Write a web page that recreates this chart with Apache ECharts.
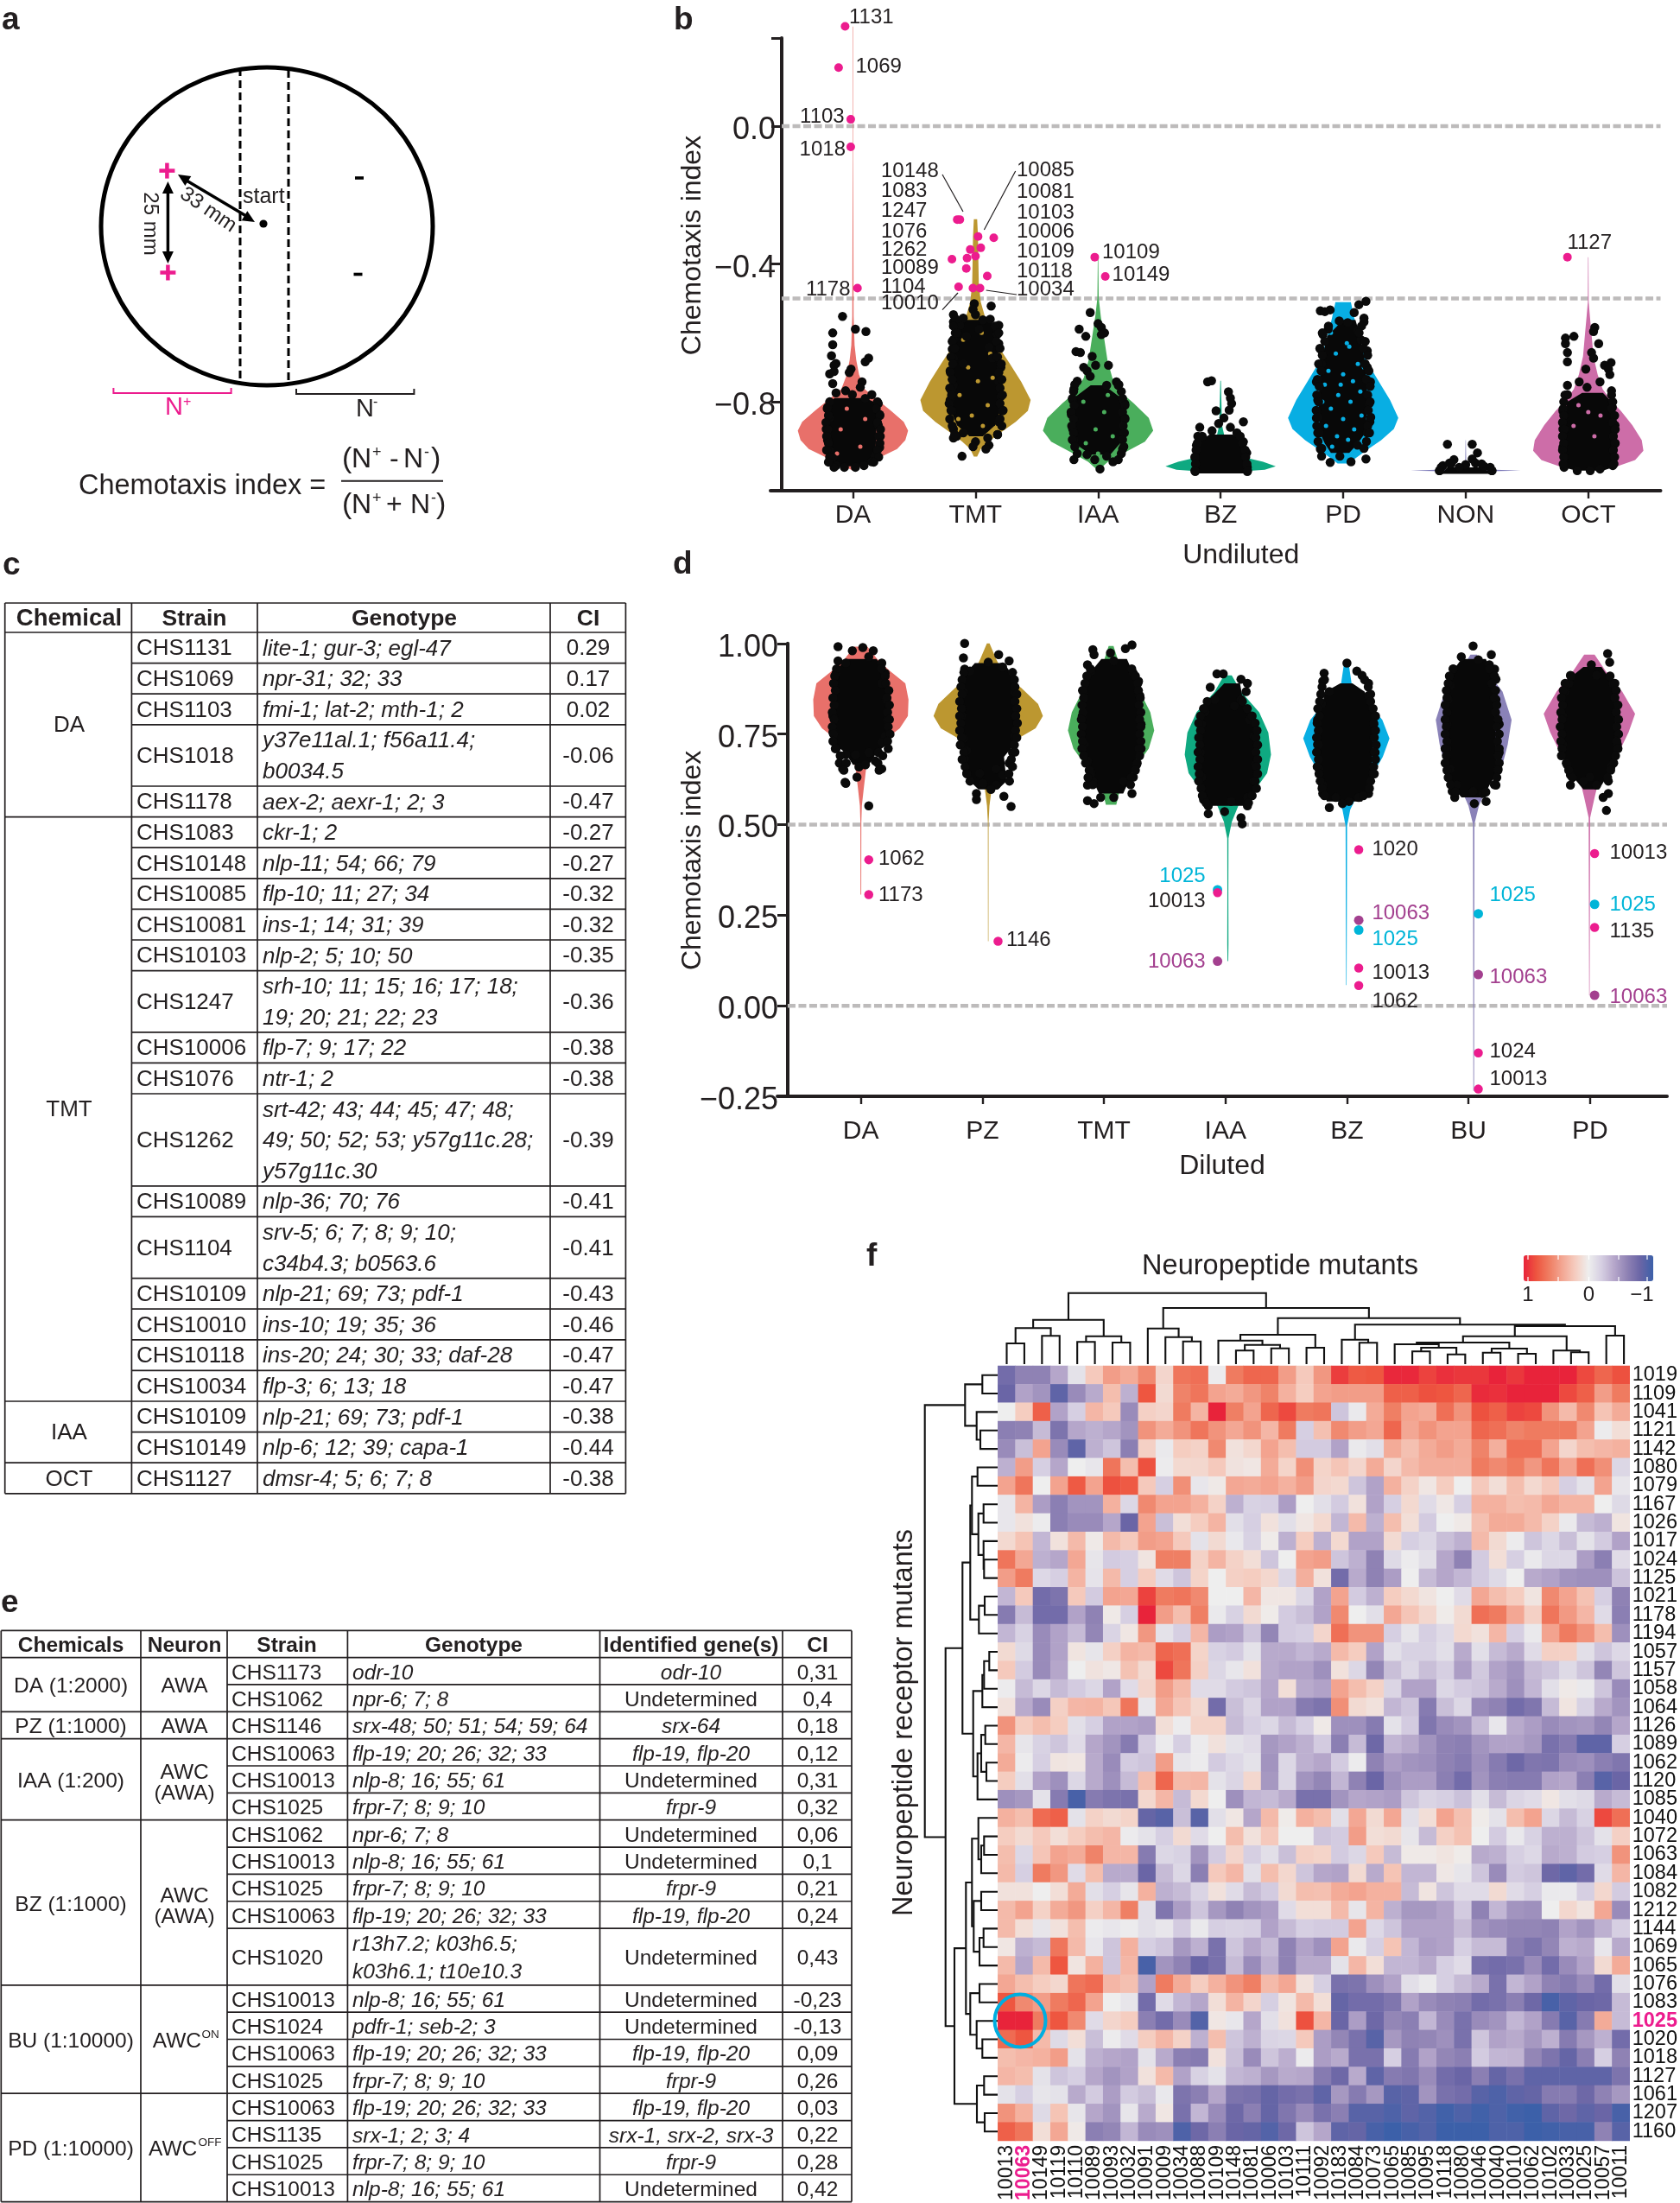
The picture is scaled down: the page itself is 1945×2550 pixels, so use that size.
<!DOCTYPE html>
<html><head><meta charset="utf-8"><style>html,body{margin:0;padding:0;background:#fff}#c{width:1945px;height:2550px}</style>
<script src="https://cdn.jsdelivr.net/npm/echarts@6/dist/echarts.min.js"></script></head><body><div id="c"></div>
<script>
// ---------- PANEL b data ----------
const catsB=['DA','TMT','IAA','BZ','PD','NON','OCT'];
const colorsB=['#e8706a','#bc9730','#4aae5c','#0fa981','#08aee3','#7b78b8','#cd6da8'];
const vioB_DA=[[.289,.004],[-.098,.004],[-.552,.012],[-.636,.03],[-.679,.06],[-.721,.11],[-.763,.21],[-.795,.45],[-.826,.69],[-.858,.92],[-.884,1],[-.911,.95],[-.937,.8],[-.963,.47],[-.979,.26],[-1,0]];
const vioB_TMT=[[-.27,.03],[-.32,.045],[-.373,.05],[-.457,.06],[-.51,.095],[-.552,.17],[-.584,.24],[-.626,.36],[-.689,.62],[-.742,.83],[-.795,1],[-.826,.95],[-.858,.73],[-.89,.45],[-.916,.24],[-.937,.095],[-.959,.03]];
const vioB_IAA=[[-.38,.004],[-.499,.012],[-.552,.05],[-.615,.11],[-.679,.17],[-.731,.26],[-.774,.43],[-.805,.65],[-.847,.92],[-.884,1],[-.916,.85],[-.948,.47],[-.974,.18],[-1,0]];
const vioB_BZ=[[-.739,.006],[-.868,.025],[-.921,.1],[-.948,.25],[-.963,.47],[-.974,.77],[-.987,1],[-.997,.8],[-1.003,.3]];
const vioB_PD=[[-.511,.14],[-.562,.21],[-.636,.33],[-.689,.45],[-.742,.65],[-.795,.85],[-.847,1],[-.879,.92],[-.911,.69],[-.942,.41],[-.969,.18],[-.979,.1]];
const vioB_NON=[[-.911,.003],[-.99,.01],[-.996,.3],[-1,1],[-1.003,0]];
const vioB_OCT=[[-.38,.004],[-.51,.008],[-.552,.03],[-.605,.06],[-.668,.095],[-.721,.17],[-.763,.26],[-.795,.4],[-.826,.59],[-.868,.8],[-.911,.97],[-.942,1],[-.969,.85],[-.99,.47],[-.997,.12]];
const coreB_DA=[[-.789,-.15,.1],[-.805,-.2,.2],[-.974,-.2,.18],[-.987,-.13,.1]];
const coreB_TMT=[[-.562,-.12,.12],[-.605,-.16,.17],[-.689,-.19,.19],[-.826,-.2,.2],[-.868,-.15,.16],[-.9,-.05,.06]];
const coreB_IAA=[[-.752,-.06,.05],[-.784,-.18,.17],[-.826,-.2,.2],[-.921,-.19,.18],[-.953,-.06,.1]];
const coreB_BZ=[[-.895,-.09,.1],[-.916,-.18,.17],[-.953,-.2,.2],[-1.008,-.2,.2]];
const coreB_PD=[[-.562,0,.1],[-.61,-.13,.14],[-.689,-.18,.18],[-.795,-.2,.2],[-.89,-.19,.18],[-.921,-.15,.12],[-.948,-.1,.05]];
const coreB_NON=[[-.99,-.15,.14],[-1.009,-.2,.21]];
const coreB_OCT=[[-.774,-.05,.12],[-.8,-.17,.19],[-.847,-.2,.2],[-.99,-.2,.2],[-1,-.1,.12]];
const dotsB_DA=[[-.085,-.552],[-.165,-.6],[.02,-.589],[.106,-.596],[-.165,-.634],[-.175,-.666],[-.138,-.689],[-.154,-.694],[.128,-.673],[.1,-.684],[-.016,-.705],[-.19,-.719],[-.154,-.712],[-.03,-.715],[.074,-.742],[.06,-.758],[-.165,-.747],[-.138,-.774],[-.06,-.768],[-.005,-.779],[.154,-.779],[.1,-.79],[-.207,-.816],[-.19,-.847],[-.218,-.879],[-.207,-.911],[-.19,-.942],[-.165,-.963],[.207,-.805],[.218,-.837],[.207,-.868],[.223,-.9],[.218,-.932],[.18,-.958],[.154,-.974],[-.138,-.985],[-.07,-.99],[.02,-.99],[.09,-.985],[-.154,-.99]];
const dotsB_TMT=[[-.01,-.515],[.128,-.522],[-.02,-.532],[-.18,-.547],[-.1,-.557],[0,-.547],[.06,-.562],[-.18,-.568],[-.128,-.578],[.165,-.584],[.19,-.578],[-.165,-.6],[.03,-.589],[.176,-.605],[-.18,-.62],[-.074,-.61],[.19,-.631],[.11,-.642],[-.19,-.647],[.138,-.673],[-.18,-.673],[-.1,-.689],[.207,-.7],[-.207,-.71],[.19,-.742],[-.18,-.752],[.207,-.784],[-.197,-.768],[-.207,-.795],[.218,-.826],[-.19,-.826],[.19,-.858],[-.18,-.879],[-.1,-.89],[.18,-.895],[-.154,-.9],[-.18,-.905],[.1,-.905],[.11,-.926],[0,-.916],[-.02,-.93],[-.11,-.958],[.085,-.937]];
const dotsB_IAA=[[-.064,-.541],[0,-.573],[.027,-.584],[.053,-.6],[-.154,-.589],[-.1,-.61],[.027,-.605],[-.18,-.654],[-.144,-.657],[-.048,-.668],[-.02,-.694],[.085,-.694],[-.117,-.7],[-.09,-.71],[-.17,-.74],[-.064,-.726],[.15,-.742],[.165,-.752],[-.197,-.763],[.07,-.752],[-.207,-.795],[.218,-.805],[-.218,-.837],[.218,-.847],[-.207,-.879],[.207,-.89],[-.197,-.911],[.2,-.937],[-.197,-.968],[-.09,-.953],[-.027,-.968],[.016,-.995],[.122,-.974],[.165,-.968],[.07,-.958]];
const dotsB_BZ=[[-.106,-.742],[-.074,-.739],[.064,-.771],[.08,-.789],[.09,-.805],[-.037,-.826],[.07,-.824],[-.17,-.874],[.027,-.847],[-.016,-.863],[.08,-.874],[.186,-.858],[-.07,-.884],[.133,-.89],[-.186,-.9],[.186,-.916],[-.197,-.926],[.213,-.948],[-.207,-.963],[.218,-.99],[-.207,-1.002],[.218,-1.002]];
const dotsB_PD=[[-.186,-.536],[-.106,-.533],[-.149,-.538],[.186,-.508],[.128,-.518],[.09,-.541],[.17,-.557],[-.032,-.565],[.17,-.568],[.037,-.57],[-.122,-.589],[-.165,-.605],[.117,-.594],[.144,-.62],[.197,-.652],[-.186,-.647],[-.176,-.689],[.197,-.7],[-.218,-.742],[.223,-.742],[-.207,-.795],[.213,-.805],[-.218,-.847],[.218,-.858],[-.207,-.89],[.197,-.89],[-.186,-.937],[-.176,-.958],[-.106,-.976],[.064,-.974],[.186,-.966],[-.027,-.958],[.117,-.926]];
const dotsB_NON=[[-.149,-.923],[.053,-.923],[.096,-.948],[.053,-.966],[-.096,-.968],[-.186,-.985],[0,-.982],[.149,-.987],[-.133,-.978],[.213,-1],[-.213,-1],[.08,-.978],[-.053,-.99]];
const dotsB_OCT=[[.053,-.584],[.043,-.596],[-.186,-.615],[-.117,-.61],[-.186,-.631],[.085,-.631],[-.17,-.657],[.027,-.657],[-.17,-.684],[.043,-.673],[.186,-.686],[.133,-.694],[.165,-.705],[-.02,-.705],[.176,-.721],[.096,-.742],[-.17,-.752],[-.074,-.742],[.19,-.768],[-.01,-.758],[-.17,-.779],[-.207,-.826],[.197,-.816],[-.207,-.879],[.218,-.868],[-.207,-.932],[.218,-.921],[-.197,-.99],[.2,-.985],[-.09,-1],[.016,-1],[.096,-.995]];
// dot pairs along the left and right rim of each cloud: [value, left offset, right offset]
const rimB_DA=[[-.8,-.19,.2],[-.82,-.21,.19],[-.84,-.2,.22],[-.86,-.22,.2],[-.88,-.205,.225],[-.9,-.215,.21],[-.92,-.2,.22],[-.94,-.215,.2],[-.96,-.19,.21],[-.975,-.2,.17]];
const rimB_TMT=[[-.56,-.16,.12],[-.58,-.18,.16],[-.6,-.15,.19],[-.625,-.19,.17],[-.645,-.17,.2],[-.67,-.2,.18],[-.69,-.185,.21],[-.715,-.205,.19],[-.735,-.19,.215],[-.76,-.21,.2],[-.78,-.195,.22],[-.805,-.215,.2],[-.825,-.2,.225],[-.85,-.21,.2],[-.87,-.19,.215],[-.895,-.17,.18]];
const rimB_IAA=[[-.75,-.19,.17],[-.77,-.2,.19],[-.79,-.21,.2],[-.81,-.195,.22],[-.83,-.22,.2],[-.85,-.2,.22],[-.87,-.215,.205],[-.89,-.2,.215],[-.91,-.21,.2],[-.93,-.19,.21],[-.95,-.17,.19]];
const rimB_BZ=[[-.9,-.15,.16],[-.92,-.19,.18],[-.94,-.2,.2],[-.96,-.21,.205],[-.98,-.205,.215],[-1,-.21,.22]];
const rimB_PD=[[-.58,-.12,.15],[-.6,-.17,.13],[-.625,-.15,.18],[-.645,-.19,.165],[-.665,-.17,.2],[-.69,-.2,.18],[-.71,-.18,.21],[-.735,-.21,.19],[-.755,-.195,.22],[-.78,-.215,.2],[-.8,-.2,.22],[-.825,-.22,.205],[-.845,-.205,.225],[-.87,-.215,.2],[-.89,-.195,.215],[-.915,-.205,.19],[-.935,-.175,.17]];
const rimB_NON=[[-.98,-.12,.13],[-.99,-.2,.2],[-1,-.215,.215]];
const rimB_OCT=[[-.78,-.19,.19],[-.8,-.2,.2],[-.82,-.205,.19],[-.84,-.2,.215],[-.86,-.21,.2],[-.88,-.195,.22],[-.9,-.21,.205],[-.92,-.2,.22],[-.94,-.21,.205],[-.96,-.2,.215],[-.98,-.205,.21]];
// spots where the violin colour shows through the cloud: [offset, value]
const gapsB_DA=[[-.05,-.82],[.1,-.85],[-.1,-.88],[.06,-.93],[-.13,-.95]];
const gapsB_TMT=[[-.1,-.62],[.05,-.6],[.12,-.66],[-.06,-.7],[.02,-.74],[-.13,-.78],[.1,-.81],[-.03,-.84],[.14,-.73],[-.14,-.85],[.06,-.87]];
const gapsB_IAA=[[-.12,-.8],[.05,-.83],[-.02,-.88],[.12,-.9],[-.1,-.92],[.08,-.78],[0,-.95]];
const gapsB_BZ=[];
const gapsB_PD=[[-.1,-.6],[.05,-.64],[-.06,-.66],[.12,-.69],[-.12,-.71],[0,-.72],[.08,-.74],[-.15,-.75],[.14,-.77],[-.04,-.78],[.06,-.8],[-.1,-.82],[.15,-.84],[0,-.85],[-.14,-.87],[.09,-.88],[-.05,-.9],[.12,-.92],[-.09,-.93],[.03,-.63],[-.02,-.75],[.17,-.7],[-.17,-.8],[.04,-.91]];
const gapsB_NON=[];
const gapsB_OCT=[[-.08,-.81],[.1,-.84],[-.12,-.87],[.05,-.9],[0,-.83]];
const hitsB=[[.936,.29],[.883,.17],[.982,.02],[.982,-.06],[1.037,-.47],[1.851,-.271],[1.872,-.271],[2.021,-.32],[2.149,-.324],[1.957,-.358],[2.043,-.353],[1.931,-.383],[2,-.377],[1.808,-.386],[1.925,-.413],[2.096,-.435],[1.862,-.466],[1.979,-.47],[2.037,-.47],[2.973,-.38],[3.059,-.436],[6.83,-.38]];
// ---------- PANEL d data ----------
const catsD=['DA','PZ','TMT','IAA','BZ','BU','PD'];
const colorsD=['#e8706a','#bc9730','#4aae5c','#0fa981','#08aee3','#8a82b8','#cd6da8'];
const centersD=[1,2.048,3.059,4.02,4.995,6.043,6.995];
const vioD_DA=[[.991,.054],[.957,.134],[.924,.24],[.89,.366],[.845,.392],[.8,.387],[.766,.32],[.732,.19],[.699,.08],[.654,.043],[.609,.027],[.552,.008],[.507,.004],[.307,.003]];
const vioD_PZ=[[1,.011],[.957,.065],[.912,.13],[.878,.27],[.833,.41],[.8,.45],[.766,.39],[.732,.215],[.699,.097],[.654,.054],[.609,.032],[.552,.01],[.507,.003],[.178,.002]];
const vioD_TMT=[[.993,.02],[.957,.054],[.912,.14],[.867,.237],[.81,.323],[.76,.355],[.71,.31],[.676,.237],[.631,.118],[.586,.065],[.555,.043]];
const vioD_IAA=[[.912,.032],[.867,.108],[.81,.258],[.754,.333],[.693,.355],[.642,.323],[.597,.226],[.552,.086],[.507,.032],[.462,.005],[.316,.004],[.17,.005],[.123,.003]];
const vioD_BZ=[[.952,.016],[.89,.043],[.834,.188],[.789,.296],[.738,.355],[.687,.3],[.631,.204],[.586,.097],[.541,.032],[.496,.006],[.237,.004],[.057,.002]];
const vioD_BU=[[.969,.027],[.924,.108],[.867,.237],[.789,.312],[.721,.28],[.665,.237],[.609,.118],[.552,.043],[.502,.006],[-.235,.003]];
const vioD_PD=[[.969,.043],[.924,.134],[.867,.27],[.806,.376],[.755,.323],[.699,.242],[.665,.134],[.62,.075],[.575,.043],[.519,.006],[.029,.002]];
const coreD_DA=[[.957,-.13,.13],[.924,-.2,.19],[.879,-.225,.225],[.721,-.215,.215],[.699,-.13,.13],[.665,-.065,.065]];
const coreD_PZ=[[.946,-.11,.13],[.912,-.2,.2],[.867,-.225,.225],[.721,-.215,.215],[.687,-.19,.13],[.62,-.15,.15],[.597,-.08,.08]];
const coreD_TMT=[[.957,-.08,.13],[.912,-.19,.19],[.867,-.226,.226],[.699,-.226,.226],[.631,-.16,.16],[.586,-.1,.1]];
const coreD_IAA=[[.89,-.03,.1],[.833,-.19,.13],[.8,-.226,.226],[.586,-.226,.226],[.552,-.13,.13]];
const coreD_BZ=[[.89,-.05,.05],[.867,-.17,.15],[.8,-.23,.23],[.609,-.215,.2],[.564,-.16,.13]];
const coreD_BU=[[.957,-.1,.1],[.912,-.2,.16],[.856,-.22,.17],[.642,-.22,.19],[.609,-.19,.13],[.575,-.1,.08]];
const coreD_PD=[[.935,-.05,.1],[.89,-.215,.19],[.867,-.226,.215],[.687,-.215,.215],[.642,-.16,.16],[.597,-.05,.08]];
const dotsD_DA=[[-.188,.991],[.016,.989],[-.07,.98],[.102,.98],[-.188,.952],[.172,.946],[.065,.963],[-.124,.946],[-.204,.918],[.2,.918],[.172,.89],[-.22,.89],[.21,.845],[-.23,.8],[.22,.789],[-.23,.755],[.2,.744],[-.204,.71],[.172,.727],[-.124,.693],[.145,.699],[-.043,.693],[.065,.699],[-.177,.67],[.118,.676],[-.016,.659],[-.15,.654],[.172,.654],[.038,.665],[-.032,.631],[-.124,.614],[-.13,.617],[.065,.552]];
const dotsD_PZ=[[-.194,1],[-.204,.96],[-.194,.929],[.086,.969],[0,.948],[.172,.952],[-.15,.924],[.118,.935],[-.204,.867],[.215,.867],[-.215,.8],[.226,.8],[-.204,.738],[.215,.744],[-.177,.704],[.2,.699],[-.194,.682],[.172,.67],[-.177,.642],[.065,.654],[-.07,.642],[.118,.637],[-.043,.614],[.065,.609],[-.097,.586],[-.097,.569],[.129,.578],[.188,.55],[.022,.597]];
const dotsD_TMT=[[-.15,.983],[.172,.996],[.118,.986],[-.14,.969],[-.005,.974],[-.194,.941],[-.167,.924],[.022,.952],[.183,.918],[.226,.896],[-.226,.867],[.237,.856],[-.237,.8],[.247,.777],[-.22,.721],[.247,.71],[-.194,.676],[.21,.665],[-.167,.642],[.183,.631],[-.15,.62],[.102,.62],[-.194,.609],[.172,.586],[.022,.575],[-.194,.566],[-.14,.558],[-.086,.575]];
const dotsD_IAA=[[-.09,.916],[-.038,.916],[-.145,.879],[.161,.89],[.108,.901],[.15,.867],[-.108,.845],[.108,.845],[-.188,.811],[.054,.828],[.177,.789],[-.215,.777],[.215,.744],[-.226,.699],[.226,.665],[-.215,.631],[.215,.62],[-.2,.569],[.161,.575],[-.161,.552],[.027,.564],[.161,.552],[-.161,.53],[-.027,.536],[.108,.519],[.118,.502]];
const dotsD_BZ=[[.005,.946],[-.183,.918],[.086,.924],[.129,.912],[-.194,.896],[.183,.89],[-.14,.867],[.183,.856],[-.204,.834],[-.237,.789],[.226,.777],[-.237,.721],[.237,.699],[-.226,.654],[.22,.642],[-.194,.609],[.183,.586],[-.194,.586],[-.14,.547],[.022,.564],[.102,.575],[-.032,.558],[-.086,.575]];
const dotsD_BU=[[-.005,.993],[-.102,.963],[.145,.969],[.038,.955],[.129,.941],[-.167,.929],[.172,.929],[-.194,.884],[.183,.901],[-.21,.845],[.183,.845],[-.22,.777],[.21,.777],[-.22,.71],[.21,.699],[-.194,.654],[.2,.654],[.183,.609],[-.14,.609],[-.177,.592],[-.156,.575],[-.005,.592],[.102,.564],[.075,.586],[.005,.558]];
const dotsD_PD=[[.15,.972],[.167,.948],[.016,.941],[-.156,.912],[.059,.912],[-.167,.89],[.194,.89],[-.2,.867],[-.22,.8],[.22,.811],[-.22,.721],[.23,.721],[-.183,.665],[.177,.659],[-.156,.637],[-.156,.609],[.156,.62],[.059,.609],[.156,.586],[.113,.575],[.005,.631],[.14,.539],[-.048,.62]];
const rimD_DA=[[.93,-.2,.17],[.91,-.215,.2],[.89,-.225,.205],[.87,-.21,.23],[.85,-.23,.215],[.83,-.22,.235],[.81,-.235,.22],[.79,-.22,.235],[.77,-.235,.225],[.75,-.225,.24],[.73,-.23,.22],[.71,-.21,.225],[.69,-.17,.18],[.67,-.12,.14],[.65,-.14,.15]];
const rimD_PZ=[[.92,-.2,.2],[.9,-.215,.215],[.88,-.225,.22],[.86,-.215,.235],[.84,-.235,.22],[.82,-.22,.235],[.8,-.235,.225],[.78,-.225,.24],[.76,-.235,.225],[.74,-.22,.235],[.72,-.23,.215],[.7,-.2,.22],[.68,-.215,.19],[.66,-.19,.2],[.64,-.175,.17],[.62,-.15,.175]];
const rimD_TMT=[[.93,-.17,.17],[.91,-.2,.2],[.89,-.215,.22],[.87,-.235,.225],[.85,-.225,.24],[.83,-.24,.23],[.81,-.23,.245],[.79,-.245,.235],[.77,-.235,.245],[.75,-.245,.235],[.73,-.235,.245],[.71,-.24,.23],[.69,-.225,.235],[.67,-.21,.215],[.65,-.18,.2],[.63,-.19,.165],[.61,-.15,.16]];
const rimD_IAA=[[.84,-.17,.12],[.82,-.2,.16],[.8,-.225,.2],[.78,-.24,.225],[.76,-.225,.24],[.74,-.24,.23],[.72,-.23,.245],[.7,-.245,.23],[.68,-.23,.245],[.66,-.245,.235],[.64,-.235,.245],[.62,-.24,.225],[.6,-.22,.235],[.58,-.21,.2],[.56,-.18,.17]];
const rimD_BZ=[[.9,-.18,.15],[.88,-.2,.18],[.86,-.21,.2],[.84,-.22,.2],[.82,-.235,.22],[.8,-.22,.24],[.78,-.24,.225],[.76,-.23,.24],[.74,-.245,.23],[.72,-.23,.245],[.7,-.245,.23],[.68,-.23,.24],[.66,-.24,.225],[.64,-.225,.23],[.62,-.215,.2],[.6,-.2,.19],[.58,-.18,.14]];
const rimD_BU=[[.93,-.17,.13],[.91,-.2,.17],[.89,-.21,.15],[.87,-.225,.18],[.85,-.22,.17],[.83,-.235,.19],[.81,-.22,.18],[.79,-.235,.2],[.77,-.225,.19],[.75,-.235,.21],[.73,-.22,.195],[.71,-.235,.21],[.69,-.225,.2],[.67,-.235,.21],[.65,-.22,.2],[.63,-.21,.19],[.61,-.19,.17],[.59,-.15,.1]];
const rimD_PD=[[.91,-.15,.17],[.89,-.2,.21],[.87,-.215,.22],[.85,-.23,.21],[.83,-.22,.235],[.81,-.235,.22],[.79,-.225,.24],[.77,-.24,.225],[.75,-.225,.24],[.73,-.235,.225],[.71,-.225,.235],[.69,-.23,.215],[.67,-.19,.2],[.65,-.17,.175],[.63,-.14,.15]];
const hitsD_pink=[[1.065,.403],[1.065,.307],[2.129,.178],[3.935,.312],[5.097,.431],[5.097,.104],[5.097,.056],[6.081,-.13],[6.081,-.23],[7.038,.42],[7.038,.216]];
const hitsD_cyan=[[3.935,.32],[5.097,.209],[6.081,.254],[7.038,.28]];
const hitsD_purple=[[3.935,.123],[5.097,.236],[6.081,.086],[7.038,.029]];
// ---------- PANEL f data ----------
const rowNames=['1019','1109','1041','1121','1142','1080','1079','1167','1026','1017','1024','1125','1021','1178','1194','1057','1157','1058','1064','1126','1089','1062','1120','1085','1040','1072','1063','1084','1082','1212','1144','1069','1065','1076','1083','1025','1020','1018','1127','1061','1207','1160'];
const colNames=['10013','10063','10149','10119','10110','10089','10093','10032','10091','10009','10034','10088','10109','10148','10081','10006','10103','10111','10092','10183','10084','10073','10065','10085','10095','10118','10080','10046','10040','10010','10062','10102','10033','10025','10057','10011'];
const heat=[
[-.75,-.6,-.6,-.4,-.08,.22,.45,.38,.55,.15,.65,.68,-.02,.62,.72,.72,.45,.22,.48,.9,.78,.8,.98,.98,.88,.95,.92,.92,1,.92,1,1,1,.85,.72,.82],
[-.8,-.42,-.5,-.85,-.55,-.38,.28,-.35,.8,.12,.58,.65,.42,.38,.48,.58,.35,.2,.42,.45,.45,.45,.75,.75,.82,.8,.72,.97,.95,1,1,1,.85,.75,.45,.62],
[0,.2,.75,-.42,-.2,.32,.22,-.55,.18,.15,.62,.33,1,.6,.42,.72,.85,.62,.65,-.25,-.03,.38,.6,.42,.38,.68,.5,.82,.75,.88,.85,.5,.3,.55,.25,.38],
[-.62,-.6,-.3,-.7,-.4,-.35,-.4,-.5,.5,.38,.5,.65,.5,.4,.5,.32,.62,-.2,.27,.55,.45,.4,.72,.4,.5,.42,.42,.72,.68,.58,.62,.62,.62,.42,-.02,.1],
[-.55,-.28,.42,-.55,-.85,-.35,-.25,-.62,.18,-.03,.2,.17,.55,.08,.14,.42,.28,-.22,-.22,-.42,-.03,-.1,.38,.27,.38,.45,.38,.58,.36,.68,.68,.42,.15,.28,.32,.35],
[-.35,.45,-.2,-.4,0,-.05,.65,.28,.82,-.02,.13,.14,.22,.07,.05,.38,.16,.52,.16,.24,.15,.38,.15,.3,.37,.37,.37,.62,.55,.62,.48,.65,.42,.68,.52,-.15],
[.42,.65,0,.42,.78,.42,.82,.78,.22,-.2,.52,-.05,.03,.4,.38,.42,.35,.45,.15,.13,-.25,-.42,.35,.17,.05,.2,0,.22,.1,.28,.13,.22,-.2,-.08,.42,-.05],
[-.05,.33,-.45,-.62,-.5,-.5,.35,-.15,.55,.42,.42,.35,.17,-.35,-.18,-.2,-.45,0,-.1,-.22,.08,-.42,-.2,.13,-.12,.04,-.2,.35,.35,.28,.3,.4,.33,.33,0,-.13],
[-.05,.08,-.02,-.62,-.55,-.55,-.4,-.8,.42,-.28,.1,.2,.33,-.1,-.2,.08,-.1,.05,.13,-.32,.3,-.35,.28,.1,-.22,0,.03,.27,.38,.38,.3,.17,-.03,-.3,-.35,.06],
[.13,.25,-.32,.08,.3,.03,.3,.22,.45,.42,.22,-.08,.12,-.04,-.18,.02,-.35,.2,-.35,.13,-.42,-.42,.12,-.2,-.15,-.28,-.35,.3,.12,-.02,-.25,-.15,-.28,-.08,-.22,-.42],
[.65,.4,-.35,-.4,.4,-.06,-.22,-.2,.06,.6,.6,.17,.33,.17,.1,-.25,0,.42,.45,-.25,-.35,-.6,-.13,-.02,-.1,-.4,-.6,-.22,.1,-.2,-.03,-.15,-.15,-.45,-.62,-.12],
[.45,.62,-.14,-.2,.33,-.07,.3,-.2,.2,-.12,-.25,.16,0,.18,.2,.14,-.15,.36,.08,-.75,-.38,-.6,-.45,0,-.3,-.4,-.32,-.22,-.13,0,-.38,-.42,-.5,-.52,-.52,-.26],
[-.32,.22,-.75,-.7,.22,-.22,.42,.4,.88,.62,.65,.55,0,0,.32,.05,.05,-.15,-.42,.42,-.22,-.35,.2,.13,.06,0,-.12,.4,.28,.2,.06,.55,.42,.26,-.2,-.6],
[-.65,-.3,-.75,-.75,-.42,-.6,.03,-.2,1,.45,.28,.6,-.03,-.18,.12,.02,-.22,-.28,-.42,.55,0,-.1,.4,.24,.14,.02,.12,.68,.62,.4,.18,.65,.47,.32,-.12,-.62],
[-.32,-.18,-.55,-.42,-.3,-.58,-.17,.05,.48,-.08,-.2,.32,-.45,-.42,-.25,-.58,-.22,-.2,.15,.68,.5,.5,-.2,-.06,-.2,-.12,.13,.08,.32,-.2,-.03,.42,.62,.5,.28,-.52],
[.12,-.13,-.55,-.42,.06,-.06,.18,.33,.3,.72,.68,.16,-.18,-.22,-.08,-.38,-.38,-.32,-.38,.3,.2,-.42,-.1,-.18,-.18,-.1,-.38,-.1,-.3,-.38,-.12,.18,.18,-.1,-.25,-.14],
[.22,-.22,-.55,-.4,0,.07,.04,.26,.12,.85,.65,.18,-.15,-.05,.08,-.38,-.42,-.42,-.52,.08,-.15,-.58,-.28,-.15,-.28,-.2,-.45,-.23,-.42,-.5,-.3,-.25,-.13,-.25,-.58,-.25],
[-.02,-.3,-.15,-.3,-.22,-.15,-.42,-.12,.15,.45,.3,-.12,-.12,-.22,-.25,-.4,.1,-.38,-.42,.42,.28,.17,-.16,-.42,-.42,-.15,-.22,-.25,-.38,-.52,-.32,-.1,.03,-.03,-.25,-.55],
[.08,-.38,-.55,.18,.32,.33,.23,.65,-.05,.4,.24,.13,-.75,-.28,-.16,-.42,-.42,-.65,-.7,.52,.12,.08,-.32,-.25,-.65,-.28,-.15,-.55,-.6,-.75,-.68,-.3,.06,-.18,-.38,-.5],
[.5,.2,.28,.2,-.1,-.2,-.42,-.42,-.45,.1,-.02,.16,.16,-.3,-.2,-.15,-.3,-.2,.03,-.52,-.52,-.65,-.08,-.22,-.68,-.55,-.5,-.3,-.05,-.38,-.45,-.55,-.5,-.48,-.58,-.4],
[.32,-.06,-.18,-.25,-.12,-.4,-.5,-.65,-.22,-.02,-.2,-.02,.08,-.08,-.12,-.48,-.42,-.35,-.22,-.62,-.3,-.78,-.32,-.38,-.5,-.6,-.62,-.5,-.42,-.42,-.48,-.72,-.65,-.85,-.85,-.2],
[.38,-.02,-.2,.06,.05,-.38,-.55,-.22,-.25,.45,-.06,-.02,-.22,-.14,-.08,-.5,-.15,-.35,-.4,-.22,-.02,-.6,-.45,-.5,-.52,-.6,-.65,-.52,-.65,-.78,-.68,-.7,-.55,-.52,-.62,-.68],
[.2,-.1,-.42,-.52,-.15,-.38,-.52,-.3,.28,.72,.3,.32,-.08,-.16,.14,-.48,-.15,-.5,-.58,-.32,-.6,-.8,-.52,-.45,-.45,-.62,-.75,-.5,-.62,-.65,-.65,-.42,-.4,-.62,-.88,-.8],
[-.52,-.48,-.08,-.65,-.95,-.65,-.7,-.72,.14,.32,-.3,.13,0,-.52,-.32,-.3,-.38,-.72,-.72,-.5,-.4,-.42,-.45,-.25,-.17,-.2,-.27,-.1,-.3,-.16,-.12,.05,-.1,-.13,-.38,-.3],
[.35,.28,.7,.75,-.08,.17,.12,.16,-.82,-.88,-.28,-.88,-.1,.05,-.4,.3,.02,.35,.28,-.1,.4,.12,.4,-.1,.1,.42,.27,.02,-.08,.28,.42,-.15,-.3,-.18,.85,.68],
[.2,.12,.22,.1,.2,.28,.32,-.02,-.08,-.2,.12,-.12,0,.28,.08,.22,0,0,-.25,-.22,.45,.1,.12,-.06,-.3,.18,.26,0,-.22,-.04,-.18,-.35,-.35,-.25,-.08,.18],
[.28,-.15,.24,.42,.38,.58,.32,.32,-.65,-.15,-.18,-.5,-.22,.15,-.2,-.1,-.28,.18,.16,-.22,-.15,.22,-.3,.03,.03,.06,.02,-.38,-.35,-.2,-.14,-.38,-.35,-.22,-.2,.5],
[.3,-.2,.62,.48,-.12,.28,-.38,-.38,-.8,-.3,-.15,-.62,.22,.32,-.1,.28,.14,-.25,-.4,-.42,.12,-.38,.25,-.32,-.32,.04,-.06,-.25,-.55,-.22,-.25,-.78,-.85,-.75,-.12,.32],
[.08,.08,0,.1,.38,-.1,-.2,-.06,.35,-.35,-.3,-.17,.08,-.12,-.3,-.22,.12,.28,.27,.38,.42,.35,.35,-.3,.06,-.25,-.12,-.12,.12,-.12,-.2,-.03,-.03,-.2,.14,-.22],
[.3,.42,.17,.38,.48,.18,.32,.6,-.1,-.68,-.45,-.25,-.48,-.6,-.5,-.45,-.12,.1,.1,.3,-.06,.33,-.35,-.48,-.48,-.42,-.22,-.6,-.32,-.5,-.52,0,.14,.06,.4,-.55],
[.3,.1,-.06,.08,.28,-.02,-.05,-.02,-.1,-.05,-.22,-.03,-.2,-.18,-.2,-.42,-.3,-.2,-.22,-.22,.42,-.14,-.25,-.42,-.42,-.42,-.3,-.5,-.55,-.58,-.58,-.6,-.42,-.5,-.35,-.2],
[.05,-.35,-.3,.65,.3,-.05,-.25,.35,-.2,-.25,-.48,-.35,-.72,-.25,-.4,-.3,-.6,-.42,-.52,.42,-.03,-.2,.25,-.32,-.45,-.42,-.2,-.3,-.3,-.62,-.7,-.58,-.35,-.38,-.05,-.38],
[.3,-.4,.3,.8,.06,.35,-.25,.32,-.95,-.5,-.6,-.8,-.72,-.3,-.55,-.35,-.6,-.38,-.38,-.08,.32,.1,-.32,-.32,-.38,-.2,-.12,-.72,-.75,-.72,-.55,-.75,-.55,-.42,.12,.38],
[.4,.28,.2,.14,.65,.7,.32,.27,-.42,.62,.38,.2,.35,.5,.6,.3,.4,.08,-.2,-.72,-.7,-.52,-.42,-.1,-.03,-.2,-.3,-.38,-.72,-.32,-.42,-.6,-.65,-.55,-.75,-.1],
[.8,.55,.45,.62,.72,.42,0,-.06,-.75,-.12,-.32,-.4,.1,.33,.15,-.2,.06,.3,.1,-.82,-.75,-.75,-.68,-.42,-.55,-.6,-.62,-.75,-.72,-.62,-.78,-.95,-.85,-.8,-.78,-.3],
[1,1,.62,.8,.55,-.12,.15,.2,-.62,-.75,-.55,-.9,.05,-.05,-.4,-.1,.08,.82,.32,-.8,-.45,-.78,-.58,-.62,-.32,-.55,-.72,-.55,-.5,-.32,-.42,-.65,-.88,-.65,.38,-.3],
[.7,.8,.3,-.13,.1,-.28,-.02,-.12,.2,.32,.17,-.35,.28,-.25,-.35,-.17,-.15,.22,-.45,-.58,-.72,-.88,-.48,-.6,-.58,-.52,-.72,-.25,-.42,-.38,-.48,-.35,-.65,-.48,-.35,-.75],
[.28,.32,.35,.45,-.08,-.35,-.4,-.42,-.08,-.38,-.62,-.65,.08,-.28,-.55,-.25,-.36,-.02,-.45,-.38,-.72,-.72,-.2,-.65,-.42,-.58,-.62,-.22,-.32,-.33,-.58,-.7,-.82,-.62,-.2,-.6],
[.32,.28,-.08,-.25,-.2,-.4,-.5,-.42,.08,.3,-.42,-.18,-.08,-.32,-.35,-.48,-.38,-.4,-.65,-.78,-.38,-.85,-.65,-.68,-.55,-.75,-.8,-.62,-.82,-.72,-.85,-.85,-.85,-.85,-.85,-.7],
[-.08,-.2,-.06,-.08,-.38,-.22,-.45,-.22,-.28,-.04,-.7,-.62,-.4,-.7,-.72,-.82,-.75,-.72,-.85,-.48,-.65,-.48,-.88,-.85,-.5,-.72,-.75,-.88,-.92,-.85,-.82,-.65,-.65,-.78,-.6,-.48],
[.5,.35,-.13,.25,-.06,-.4,-.5,-.06,-.38,.05,-.72,-.32,-.55,-.78,-.62,-.82,-.68,-.55,-.72,-.62,-.88,-.88,-.92,-.85,-.9,-.98,-.92,-.98,-.92,-.98,-1,-.85,-.78,-.85,-.8,-.95],
[.75,.65,.1,.4,.03,-.62,-.58,-.32,-.55,-.52,-.92,-.78,-.62,-.8,-.82,-.9,-.78,-.25,-.4,-.85,-.82,-.95,-1,-.95,-.9,-1,-1,-1,-.92,-.92,-1,-.98,-.95,-.95,-.6,-.88]
];
// dendrograms: [childA, childB, height]; ids above the leaf count refer to earlier merges
const topTree=[[0,1,24],[2,3,32.7],[36,37,41.7],[4,5,25.7],[6,7,25],[39,40,32.3],[38,41,51.3],[10,11,26.3],[9,43,31.3],[8,44,41.3],[13,14,15.7],[15,16,18.3],[46,47,22.3],[12,48,27.3],[17,18,19],[49,50,34],[20,21,24.7],[19,52,28.3],[23,24,14.7],[25,26,11.3],[54,55,19],[22,56,23],[27,28,13.3],[29,30,12],[58,59,18],[57,60,25],[32,33,13.7],[31,62,15.7],[61,63,32.3],[34,35,33],[64,65,44],[53,66,45.7],[51,67,53.3],[45,68,65],[42,69,82.3]];
const leftTree=[[0,1,17.7],[3,4,20],[2,43,24.3],[42,44,37.7],[5,6,23.3],[7,8,16.3],[10,11,15.7],[9,48,16.3],[47,49,22.3],[46,50,29.7],[12,13,15],[52,14,21.7],[51,53,31.7],[15,16,9.7],[55,17,15.7],[56,18,17.7],[19,20,14.3],[21,22,13],[58,59,19],[60,23,23.3],[57,61,28.3],[54,62,40.7],[25,26,15.7],[64,27,19],[24,65,22.3],[28,29,19],[30,31,16.3],[68,32,21],[67,69,27.7],[66,70,29.7],[33,34,21],[36,37,17.7],[35,73,24.3],[72,74,31.7],[71,75,36.7],[38,39,15.7],[40,41,15],[77,78,24],[76,79,50],[63,80,60.3],[45,81,84.3]];
// ---------- tables ----------
const tableCHeader=['Chemical','Strain','Genotype','CI'];
const tableCGroups=[['DA',5],['TMT',15],['IAA',2],['OCT',1]];
const tableCRows=[
['CHS1131',['lite-1; gur-3; egl-47'],'0.29'],['CHS1069',['npr-31; 32; 33'],'0.17'],['CHS1103',['fmi-1; lat-2; mth-1; 2'],'0.02'],['CHS1018',['y37e11al.1; f56a11.4;','b0034.5'],'-0.06'],['CHS1178',['aex-2; aexr-1; 2; 3'],'-0.47'],
['CHS1083',['ckr-1; 2'],'-0.27'],['CHS10148',['nlp-11; 54; 66; 79'],'-0.27'],['CHS10085',['flp-10; 11; 27; 34'],'-0.32'],['CHS10081',['ins-1; 14; 31; 39'],'-0.32'],['CHS10103',['nlp-2; 5; 10; 50'],'-0.35'],['CHS1247',['srh-10; 11; 15; 16; 17; 18;','19; 20; 21; 22; 23'],'-0.36'],['CHS10006',['flp-7; 9; 17; 22'],'-0.38'],['CHS1076',['ntr-1; 2'],'-0.38'],['CHS1262',['srt-42; 43; 44; 45; 47; 48;','49; 50; 52; 53; y57g11c.28;','y57g11c.30'],'-0.39'],['CHS10089',['nlp-36; 70; 76'],'-0.41'],['CHS1104',['srv-5; 6; 7; 8; 9; 10;','c34b4.3; b0563.6'],'-0.41'],['CHS10109',['nlp-21; 69; 73; pdf-1'],'-0.43'],['CHS10010',['ins-10; 19; 35; 36'],'-0.46'],['CHS10118',['ins-20; 24; 30; 33; daf-28'],'-0.47'],['CHS10034',['flp-3; 6; 13; 18'],'-0.47'],
['CHS10109',['nlp-21; 69; 73; pdf-1'],'-0.38'],['CHS10149',['nlp-6; 12; 39; capa-1'],'-0.44'],
['CHS1127',['dmsr-4; 5; 6; 7; 8'],'-0.38']];
const tableEHeader=['Chemicals','Neuron','Strain','Genotype','Identified gene(s)','CI'];
const tableEGroups=[['DA (1:2000)','AWA',2],['PZ (1:1000)','AWA',1],['IAA (1:200)','AWC|(AWA)',3],['BZ (1:1000)','AWC|(AWA)',5],['BU (1:10000)','AWC^ON',4],['PD (1:10000)','AWC^OFF',4]];
const tableERows=[
['CHS1173',['odr-10'],'odr-10','0,31'],['CHS1062',['npr-6; 7; 8'],'Undetermined','0,4'],['CHS1146',['srx-48; 50; 51; 54; 59; 64'],'srx-64','0,18'],
['CHS10063',['flp-19; 20; 26; 32; 33'],'flp-19, flp-20','0,12'],['CHS10013',['nlp-8; 16; 55; 61'],'Undetermined','0,31'],['CHS1025',['frpr-7; 8; 9; 10'],'frpr-9','0,32'],
['CHS1062',['npr-6; 7; 8'],'Undetermined','0,06'],['CHS10013',['nlp-8; 16; 55; 61'],'Undetermined','0,1'],['CHS1025',['frpr-7; 8; 9; 10'],'frpr-9','0,21'],['CHS10063',['flp-19; 20; 26; 32; 33'],'flp-19, flp-20','0,24'],['CHS1020',['r13h7.2; k03h6.5;','k03h6.1; t10e10.3'],'Undetermined','0,43'],
['CHS10013',['nlp-8; 16; 55; 61'],'Undetermined','-0,23'],['CHS1024',['pdfr-1; seb-2; 3'],'Undetermined','-0,13'],['CHS10063',['flp-19; 20; 26; 32; 33'],'flp-19, flp-20','0,09'],['CHS1025',['frpr-7; 8; 9; 10'],'frpr-9','0,26'],
['CHS10063',['flp-19; 20; 26; 32; 33'],'flp-19, flp-20','0,03'],['CHS1135',['srx-1; 2; 3; 4'],'srx-1, srx-2, srx-3','0,22'],['CHS1025',['frpr-7; 8; 9; 10'],'frpr-9','0,28'],['CHS10013',['nlp-8; 16; 55; 61'],'Undetermined','0,42']];

// ---------- layout / style ----------
const FF='"Liberation Sans",Arial,sans-serif', INK='#231f20', PINK='#ec1c8e', CYAN='#00b5d8', PURPLE='#a3408f';
const vB=[vioB_DA,vioB_TMT,vioB_IAA,vioB_BZ,vioB_PD,vioB_NON,vioB_OCT], cB=[coreB_DA,coreB_TMT,coreB_IAA,coreB_BZ,coreB_PD,coreB_NON,coreB_OCT], dB=[dotsB_DA,dotsB_TMT,dotsB_IAA,dotsB_BZ,dotsB_PD,dotsB_NON,dotsB_OCT];
const rB=[rimB_DA,rimB_TMT,rimB_IAA,rimB_BZ,rimB_PD,rimB_NON,rimB_OCT], gB=[gapsB_DA,gapsB_TMT,gapsB_IAA,gapsB_BZ,gapsB_PD,gapsB_NON,gapsB_OCT];
const vD=[vioD_DA,vioD_PZ,vioD_TMT,vioD_IAA,vioD_BZ,vioD_BU,vioD_PD], cD=[coreD_DA,coreD_PZ,coreD_TMT,coreD_IAA,coreD_BZ,coreD_BU,coreD_PD], dD=[dotsD_DA,dotsD_PZ,dotsD_TMT,dotsD_IAA,dotsD_BZ,dotsD_BU,dotsD_PD];
const rD=[rimD_DA,rimD_PZ,rimD_TMT,rimD_IAA,rimD_BZ,rimD_BU,rimD_PD];
const halfB=.45;
function polySeries(g,shapes,z,fillOf){
  return {type:'custom',coordinateSystem:'cartesian2d',xAxisIndex:g,yAxisIndex:g,clip:false,silent:true,z,
    data:shapes.map((s,i)=>[i,0]),encode:{x:0,y:1},
    renderItem:(p,api)=>{const s=shapes[api.value(0)];const pts=s.pts.map(q=>api.coord(q));
      return {type:'polygon',shape:{points:pts},style:{fill:fillOf(s)}};}};
}
const vioShape=(prof,c,k)=>({color:null,pts:[...prof.map(q=>[c-q[1]*k,q[0]]),...prof.slice().reverse().map(q=>[c+q[1]*k,q[0]])]});
const coreShape=(core,c)=>({pts:[...core.map(q=>[c+q[1],q[0]]),...core.slice().reverse().map(q=>[c+q[2],q[0]])]});
const vioB=vB.map((p,i)=>Object.assign(vioShape(p,i+1,halfB),{color:colorsB[i]}));
const vioD=vD.map((p,i)=>Object.assign(vioShape(p,centersD[i],1),{color:colorsD[i]}));
const rimPts=(r,c)=>r.flatMap(q=>[[c+q[1],q[0]],[c+q[2],q[0]]]);
const scatter=(g,data,color,size,z)=>({type:'scatter',xAxisIndex:g,yAxisIndex:g,data,symbolSize:size,clip:false,silent:true,z,itemStyle:{color,opacity:1}});
const dashLine=(g,x0,x1,vals)=>({type:'custom',coordinateSystem:'cartesian2d',xAxisIndex:g,yAxisIndex:g,clip:false,silent:true,z:1,data:vals.map(v=>[x0,v]),encode:{x:0,y:1},
  renderItem:(p,api)=>{const a=api.coord([x0,api.value(1)]),b=api.coord([x1,api.value(1)]);return {type:'line',shape:{x1:a[0],y1:a[1],x2:b[0],y2:b[1]},style:{stroke:'#bdbbbb',lineWidth:4.5,lineDash:[9,3.5]}};}});
function treeSeries(g,tree,n,horizontalDepth){
  const pos=[];for(let i=0;i<n;i++)pos.push({p:i+.5,h:0});
  const segs=tree.map(m=>{const a=pos[m[0]],b=pos[m[1]];pos.push({p:(a.p+b.p)/2,h:m[2]});return [a.p,a.h,b.p,b.h,m[2]];});
  return {type:'custom',coordinateSystem:'cartesian2d',xAxisIndex:g,yAxisIndex:g,clip:false,silent:true,z:2,data:segs.map((s,i)=>[i,0]),encode:{x:0,y:1},
    renderItem:(p,api)=>{const s=segs[api.value(0)];const C=horizontalDepth?((q,h)=>api.coord([h,q])):((q,h)=>api.coord([q,h]));
      return {type:'polyline',shape:{points:[C(s[0],s[1]),C(s[0],s[4]),C(s[2],s[4]),C(s[2],s[3])]},style:{stroke:'#111',lineWidth:2.1,fill:null}};}};
}
const hide={show:false};
const axisText={color:INK,fontFamily:FF};
function vAxisY(g,min,max,ticks,labels,off,margin,fmt,pad,gap){return {type:'value',gridIndex:g,min,max,offset:off,splitLine:hide,
  axisLine:{show:true,onZero:false,lineStyle:{color:INK,width:4}},
  axisTick:{show:true,customValues:ticks,length:12,lineStyle:{color:INK,width:3}},
  axisLabel:Object.assign({customValues:labels,fontSize:36,margin,verticalAlign:'top',lineHeight:10,formatter:fmt},axisText),
  name:'Chemotaxis index',nameLocation:'middle',nameRotate:90,nameGap:gap,nameMoveOverlap:false,nameTextStyle:{fontFamily:FF,color:INK,fontSize:32,padding:[0,0,0,pad]}};}
function vAxisX(g,min,max,cats,nm,gap,pad,margin){const t=cats.map((c,i)=>i+1);return {type:'value',gridIndex:g,min,max,splitLine:hide,
  axisLine:{show:true,onZero:false,lineStyle:{color:INK,width:4}},
  axisTick:{show:true,customValues:t,length:9,lineStyle:{color:INK,width:2.4}},
  axisLabel:Object.assign({customValues:t,fontSize:30,margin,formatter:v=>cats[Math.round(v)-1]},axisText),
  name:nm,nameLocation:'middle',nameGap:gap,nameMoveOverlap:false,nameTextStyle:{fontFamily:FF,color:INK,fontSize:32,padding:[0,0,0,pad]}};}
const minus=d=>v=>String(v.toFixed(d)).replace('-','\u2212');

// ---------- graphic helpers ----------
const G=[];
function T(text,x,y,o={}){const a=o.align||'left';const size=o.size||24;
  G.push({type:'text',x,y,rotation:o.rot||0,silent:true,z:o.z||20,style:{text,fill:o.color||INK,font:(o.italic?'italic ':'')+(o.bold?'bold ':'')+size+'px '+FF,
    align:a,textAlign:a,verticalAlign:'middle',textVerticalAlign:'middle'}});}
function L(x1,y1,x2,y2,color=INK,w=2,dash){G.push({type:'line',silent:true,z:15,shape:{x1,y1,x2,y2},style:{stroke:color,lineWidth:w,lineDash:dash}});}
function arrowHead(tx,ty,fx,fy,len=14,hw=6.5){const d=Math.hypot(tx-fx,ty-fy),ux=(tx-fx)/d,uy=(ty-fy)/d;
  G.push({type:'polygon',silent:true,z:16,shape:{points:[[tx,ty],[tx-ux*len-uy*hw,ty-uy*len+ux*hw],[tx-ux*len+uy*hw,ty-uy*len-ux*hw]]},style:{fill:'#000'}});}
// panel letters
[['a',2,24],['b',780,24],['c',3,655],['d',779,654],['e',1,1856],['f',1003,1455]].forEach(q=>T(q[0],q[1],q[2],{bold:true,size:37}));
// panel a
G.push({type:'ellipse',silent:true,z:14,shape:{cx:309,cy:262,rx:192,ry:184},style:{stroke:'#000',lineWidth:5,fill:null}});
L(278,79,278,443,'#000',3,[9,5]);L(334,81,334,443,'#000',3,[9,5]);
[[193.4,197.6],[194.4,315.5]].forEach(p=>{L(p[0]-9,p[1],p[0]+9,p[1],PINK,4.5);L(p[0],p[1]-9,p[0],p[1]+9,PINK,4.5);});
L(194.4,218,194.4,297,'#000',3.5);arrowHead(194.4,210,194.4,250);arrowHead(194.4,305,194.4,260);
L(216,209,285,250,'#000',3.5);arrowHead(206,202,250,230);arrowHead(295,257,250,230);
G.push({type:'circle',silent:true,z:16,shape:{cx:305,cy:259,r:4.6},style:{fill:'#000'}});
L(411,206,421,206,'#000',3.6);L(409.5,317.5,419.5,317.5,'#000',3.6);
T('start',281,228,{size:25});T('25 mm',173.5,259,{size:24,rot:-Math.PI/2,align:'center'});T('33 mm',241,243,{size:24,rot:-.6,align:'center'});
G.push({type:'polyline',silent:true,z:15,shape:{points:[[131.4,449],[131.4,455],[267.6,455],[267.6,449]]},style:{stroke:PINK,lineWidth:2,fill:null}});
G.push({type:'polyline',silent:true,z:15,shape:{points:[[343,450],[343,456],[479.4,456],[479.4,450]]},style:{stroke:INK,lineWidth:2,fill:null}});
T('N',191,472,{size:29,color:PINK});T('+',212,466,{size:16,color:PINK});T('N',412,473.5,{size:29});T('-',432,466,{size:16});
T('Chemotaxis index =',91,563,{size:32.5});L(395,556.7,513,556.7,INK,2);
[['(',396,34],['N',407,32],['+',431,18,-8],['-',451,32],['N',467,32],['-',491,18,-8],[')',499,34]].forEach(q=>T(q[0],q[1],532+(q[3]||0),{size:q[2]}));
[['(',396,34],['N',407,32],['+',431,18,-8],['+',447,32],['N',475,32],['-',499,18,-8],[')',505,34]].forEach(q=>T(q[0],q[1],585+(q[3]||0),{size:q[2]}));
// panel b point labels
const labelsB=[['1131',983,19,'left'],['1069',990.5,76.6,'left'],['1103',977.7,134,'right'],['1018',979,172.6,'right'],['1178',984.5,334.6,'right'],
['10148',1020,197],['1083',1020,220],['1247',1020,243.7],['1076',1020,267],['1262',1020,288.7],['10089',1020,309],['1104',1020,331],['10010',1020,350],
['10085',1177,196.5],['10081',1177,221],['10103',1177,245],['10006',1177,267.7],['10109',1177,290],['10118',1177,313],['10034',1177,334.6],
['10109',1276,291.7],['10149',1287.6,317],['1127',1814.4,280]];
labelsB.forEach(q=>T(q[0],q[1],q[2]+1,{size:24,align:q[3]||'left'}));
[[1091,202,1115,245],[1175.7,198,1139.4,266],[1141.7,336,1177,341],[1091,358.6,1109,339]].forEach(q=>L(q[0],q[1],q[2],q[3],INK,1.2));
// panel d point labels
const labelsD=[['1062',1017,993.5,0],['1173',1017,1035,0],['1146',1165,1087.4,0],
['1025',1395.7,1013.8,1,'right'],['10013',1395.7,1042.5,0,'right'],['10063',1395.7,1112.4,2,'right'],
['1020',1588.4,982.6,0],['10063',1588.4,1056.7,2],['1025',1588.4,1086.4,1],['10013',1588.4,1125,0],['1062',1588.4,1158,0],
['1025',1724.5,1035.5,1],['10063',1724.5,1130,2],['1024',1724.5,1216.7,0],['10013',1724.5,1248.8,0],
['10013',1863.5,986,0],['1025',1863.5,1046,1],['1135',1863.5,1077,0],['10063',1863.5,1153.5,2]];
labelsD.forEach(q=>T(q[0],q[1],q[2]+1,{size:24,align:q[4]||'left',color:[INK,CYAN,PURPLE][q[3]]}));
// panel f decorations
T('Neuropeptide mutants',1482,1466,{size:32.5,align:'center'});
T('Neuropeptide receptor mutants',1046.7,1994,{size:32.5,align:'center',rot:Math.PI/2});
[['1',1769],['0',1839.5],['\u22121',1901]].forEach(q=>T(q[0],q[1],1499,{size:24,align:'center'}));
[1769,1804,1839.5,1874,1907].forEach(x=>{L(x,1453,x,1458,'#fff',1.2);L(x,1478,x,1483,'#fff',1.2);});
G.push({type:'ellipse',silent:true,z:30,shape:{cx:1181,cy:2339,rx:29.5,ry:30.5},style:{stroke:'#00aee0',lineWidth:4,fill:null}});
// table c
(function(){const xs=[5.7,152.4,298,637,724.4],y0=698,yh=732,u=35.6,B=1.7,dy=1.5;
  const cx=[80,225,468,681],cy=(y0+yh)/2+1.5;
  tableCHeader.forEach((t,i)=>T(t,cx[i],cy,{size:i==0?27.5:26.5,bold:true,align:'center'}));
  L(xs[0],y0,xs[4],y0,INK,B);L(xs[0],yh,xs[4],yh,INK,B);
  let y=yh,k=0;
  tableCGroups.forEach(g=>{const ys=y;
    for(let j=0;j<g[1];j++,k++){const r=tableCRows[k],h=r[1].length*u;
      T(r[0],158,y+h/2+dy,{size:26});T(r[2],681,y+h/2+dy,{size:26,align:'center'});
      r[1].forEach((l,m)=>T(l,304,y+u*(m+.5)+dy,{size:26,italic:true}));
      y+=h;L(j==g[1]-1?xs[0]:xs[1],y,xs[4],y,INK,B);}
    T(g[0],80,(ys+y)/2+dy,{size:26,align:'center'});});
  [0,1,2,3,4].forEach(i=>L(xs[i],y0,xs[i],y,INK,B));
})();
// table e
(function(){const xs=[1.3,163,263,402.4,694.5,906,986],y0=1887.4,yh=1918.6,u=31.35,B=1.7,dy=2.5;
  const cx=[82,213.6,332,548.5,800,946.5],cy=(y0+yh)/2+2;
  tableEHeader.forEach((t,i)=>T(t,cx[i],cy,{size:24.5,bold:true,align:'center'}));
  L(xs[0],y0,xs[6],y0,INK,B);L(xs[0],yh,xs[6],yh,INK,B);
  let y=yh,k=0;
  tableEGroups.forEach(g=>{const ys=y;
    for(let j=0;j<g[2];j++,k++){const r=tableERows[k],h=r[1].length>1?2*u+3:u;
      T(r[0],268,y+h/2+dy,{size:24.5});
      T(r[2],800,y+h/2+dy,{size:24.5,align:'center',italic:r[2]!=='Undetermined'});
      T(r[3],946.5,y+h/2+dy,{size:24.5,align:'center'});
      r[1].forEach((l,m)=>T(l,408,y+h/2+dy+(m-(r[1].length-1)/2)*32,{size:24.5,italic:true}));
      y+=h;L(j==g[2]-1?xs[0]:xs[2],y,xs[6],y,INK,B);}
    const c=(ys+y)/2+dy;T(g[0],82,c,{size:24.5,align:'center'});
    if(g[1].includes('|')){const p=g[1].split('|');T(p[0],213.6,c-10,{size:24.5,align:'center'});T(p[1],213.6,c+14,{size:24.5,align:'center'});}
    else if(g[1].includes('^')){const p=g[1].split('^'),on=p[1]==='ON';T(p[0],on?176.7:172,c,{size:24.5});T(p[1],on?233.5:229.6,c-8,{size:13.5});}
    else T(g[1],213.6,c,{size:24.5,align:'center'});});
  [0,1,2,3,4,5,6].forEach(i=>L(xs[i],y0,xs[i],y,INK,B));
})();

// ---------- chart ----------
const heatData=[];heat.forEach((r,i)=>r.forEach((v,j)=>heatData.push([j,i,v])));
const series=[
  dashLine(0,.419,7.59,[0,-.5]),
  polySeries(0,vioB,2,s=>s.color),
  polySeries(0,cB.map((c,i)=>coreShape(c,i+1)),3,()=>'#080808'),
  ...gB.map((a,i)=>scatter(0,a.map(q=>[i+1+q[0],q[1]]),colorsB[i],5,3.5)),
  scatter(0,dB.flatMap((a,i)=>a.map(q=>[i+1+q[0],q[1]])),'#0a0a0a',10.5,4),
  scatter(0,rB.flatMap((a,i)=>rimPts(a,i+1)),'#0a0a0a',10.5,4),
  scatter(0,hitsB,PINK,10,5),
  dashLine(1,.398,7.634,[.5,0]),
  polySeries(1,vioD,2,s=>s.color),
  polySeries(1,cD.map((c,i)=>coreShape(c,centersD[i])),3,()=>'#080808'),
  scatter(1,dD.flatMap((a,i)=>a.map(q=>[centersD[i]+q[0],q[1]])),'#0a0a0a',10.5,4),
  scatter(1,rD.flatMap((a,i)=>rimPts(a,centersD[i])),'#0a0a0a',10.5,4),
  scatter(1,hitsD_cyan,CYAN,11,5),
  scatter(1,hitsD_purple,PURPLE,11,5),
  scatter(1,hitsD_pink,PINK,10.5,6),
  {type:'heatmap',xAxisIndex:2,yAxisIndex:2,data:heatData,silent:true,z:2,progressive:0,itemStyle:{borderWidth:0}},
  treeSeries(3,topTree,36,false),
  treeSeries(4,leftTree,42,true)
];
const heatIdx=series.findIndex(s=>s.type==='heatmap');
const option={animation:false,backgroundColor:'#fff',tooltip:{show:false},
  grid:[{left:892,top:44,width:1030.5,height:524},{left:900,top:744.8,width:1030,height:524.2},
        {left:1155.3,top:1581,width:735,height:897},{left:1155.3,top:1479,width:735,height:100},{left:1065,top:1581,width:90,height:897}],
  xAxis:[vAxisX(0,.327,7.59,catsB,'Undiluted',59,59,14),vAxisX(1,.313,7.634,catsD,'Diluted',65,0,26),
    {type:'category',gridIndex:2,data:colNames,position:'bottom',axisLine:hide,axisTick:hide,
     axisLabel:{interval:0,rotate:90,margin:5,fontSize:23,color:'#111',fontFamily:FF,formatter:v=>v==='10063'?'{h|'+v+'}':v,rich:{h:{color:PINK,fontWeight:'bold',fontSize:23,fontFamily:FF}}}},
    {type:'value',gridIndex:3,min:0,max:36,show:false},{type:'value',gridIndex:4,min:0,max:90,inverse:true,show:false}],
  yAxis:[vAxisY(0,-1.058,.256,[.256,0,-.4,-.8],[0,-.4,-.8],-13,7,minus(1),44,87),vAxisY(1,-.25,1,[1,.75,.5,.25,0,-.25],[1,.75,.5,.25,0,-.25],-12,11,minus(2),22,94),
    {type:'category',gridIndex:2,data:rowNames,inverse:true,position:'right',axisLine:hide,axisTick:hide,
     axisLabel:{interval:0,margin:3,fontSize:23.5,color:'#111',fontFamily:FF,formatter:v=>v==='1025'?'{h|'+v+'}':v,rich:{h:{color:PINK,fontWeight:'bold',fontSize:23.5,fontFamily:FF}}}},
    {type:'value',gridIndex:3,min:0,max:100,show:false},{type:'value',gridIndex:4,min:0,max:42,inverse:true,show:false}],
  visualMap:{type:'continuous',seriesIndex:heatIdx,min:-1,max:1,inverse:true,orient:'horizontal',left:1764,top:1453,padding:0,itemWidth:30,itemHeight:150,calculable:false,hoverLink:false,text:null,showLabel:false,
    inRange:{color:['#3c60a9','#6a65a6','#8f82b4','#b5a6ca','#d6cfe2','#eeeeee','#f5cdc0','#f3a794','#ef7f64','#ee5640','#e8233a']}},
  graphic:{elements:G},
  series};
const chart=echarts.init(document.getElementById('c'),null,{renderer:'canvas',width:1945,height:2550});
chart.setOption(option);
</script></body></html>
